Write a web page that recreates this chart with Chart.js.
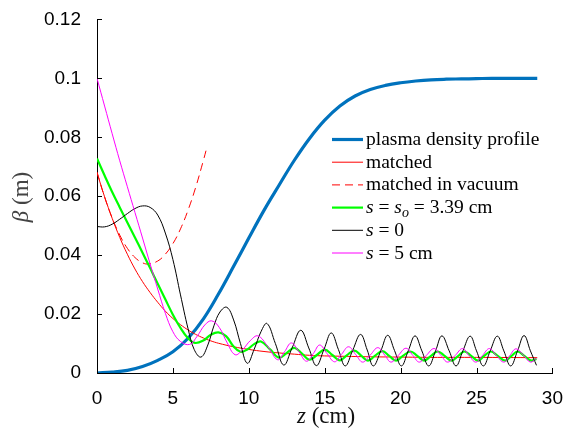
<!DOCTYPE html>
<html>
<head>
<meta charset="utf-8">
<script src="https://cdn.jsdelivr.net/npm/chart.js@4.4.1/dist/chart.umd.min.js"></script>
<style>
  body { margin: 0; background: #fff; }
  canvas { display: block; }
</style>
</head>
<body>
<canvas id="grafico" width="569" height="433"></canvas>
<script>
// z in cm, beta in m
const zProfilo = [0, 1, 2, 3, 4, 5, 6, 7, 8, 9, 10, 11, 12, 13, 14, 15, 16, 17, 18, 19, 20, 21, 22, 23, 24, 25, 26, 27, 28, 29];
const betaProfilo = [0, 0.0003, 0.0009, 0.0022, 0.0043, 0.0072, 0.0118, 0.0183, 0.0268, 0.0362, 0.0458, 0.0552, 0.0638, 0.0722, 0.0796, 0.0858, 0.0906, 0.0940, 0.0962, 0.0976, 0.0985, 0.0991, 0.0995, 0.0997, 0.0998, 0.0999, 0.1, 0.1, 0.1, 0.1];

const zMatched = [0, 0.5, 1, 1.5, 2, 2.5, 3, 3.5, 4, 4.5, 5, 5.5, 6, 6.5, 7, 7.5, 8, 9, 10, 11, 12, 13, 14, 15, 16, 18, 20, 22, 25, 29];
const betaMatched = [0.068, 0.0598, 0.0525, 0.0460, 0.0403, 0.0353, 0.0310, 0.0273, 0.0240, 0.0210, 0.0185, 0.0164, 0.0146, 0.0131, 0.0119, 0.0109, 0.0101, 0.0089, 0.0080, 0.0073, 0.0068, 0.0064, 0.0060, 0.0058, 0.0057, 0.0055, 0.0054, 0.0053, 0.0053, 0.0052];

const zVuoto = [0, 0.5, 1, 1.5, 2, 2.5, 3, 3.4, 4, 4.5, 5, 5.5, 6, 6.5, 7, 7.25];
const betaVuoto = [0.0682, 0.0597, 0.0526, 0.0468, 0.0423, 0.0392, 0.0374, 0.0370, 0.0380, 0.0403, 0.0439, 0.0489, 0.0553, 0.0630, 0.0720, 0.0768];

const zSo = [0, 0.5, 1, 1.5, 2, 2.5, 3, 3.5, 4, 4.5, 5, 5.5, 6, 6.45, 7, 7.5, 8, 8.5, 9, 9.45, 9.9, 10.35, 10.8, 11.4, 12, 12.5, 13, 13.5, 14, 14.5, 15, 15.5, 16, 16.45, 16.95, 17.4, 17.85, 18.3, 18.8, 19.25, 19.7, 20.15, 20.65, 21.1, 21.55, 22, 22.45, 22.9, 23.35, 23.8, 24.2, 24.65, 25.1, 25.5, 25.95, 26.4, 26.9, 27.3, 27.7, 28.15, 28.6, 28.95];
const betaSo = [0.0728, 0.0670, 0.0614, 0.0562, 0.0511, 0.0460, 0.0408, 0.0356, 0.0303, 0.0250, 0.0198, 0.0153, 0.0118, 0.0102, 0.0110, 0.0130, 0.0138, 0.0125, 0.0090, 0.0072, 0.0080, 0.0098, 0.0107, 0.0080, 0.0052, 0.0068, 0.0085, 0.0066, 0.0045, 0.0062, 0.0079, 0.0061, 0.0043, 0.0060, 0.0076, 0.0059, 0.0042, 0.0058, 0.0074, 0.0058, 0.0042, 0.0058, 0.0073, 0.0058, 0.0042, 0.0058, 0.0073, 0.0058, 0.0042, 0.0058, 0.0073, 0.0058, 0.0042, 0.0058, 0.0073, 0.0058, 0.0042, 0.0058, 0.0073, 0.0058, 0.0042, 0.0048];

const zS0 = [0, 0.5, 1, 1.5, 2, 2.5, 3, 3.5, 4, 4.5, 5, 5.5, 6, 6.4, 6.85, 7.3, 7.7, 8.1, 8.55, 9, 9.45, 9.9, 10.35, 10.8, 11.2, 11.75, 12.3, 12.85, 13.42, 13.95, 14.45, 14.95, 15.43, 15.9, 16.35, 16.85, 17.36, 17.8, 18.2, 18.7, 19.15, 19.6, 20.05, 20.5, 20.95, 21.4, 21.85, 22.3, 22.72, 23.2, 23.65, 24.1, 24.58, 25, 25.45, 25.9, 26.37, 26.8, 27.25, 27.7, 28.13, 28.55, 28.95];
const betaS0 = [0.0497, 0.0496, 0.0505, 0.0522, 0.0541, 0.0558, 0.0567, 0.0562, 0.0536, 0.0475, 0.0385, 0.0265, 0.0150, 0.0080, 0.0054, 0.0095, 0.0160, 0.0207, 0.0223, 0.0180, 0.0100, 0.0033, 0.0080, 0.0140, 0.0168, 0.0100, 0.0027, 0.0085, 0.0145, 0.0085, 0.0025, 0.0080, 0.0136, 0.0080, 0.0024, 0.0078, 0.0131, 0.0078, 0.0024, 0.0076, 0.0128, 0.0076, 0.0024, 0.0075, 0.0126, 0.0075, 0.0024, 0.0075, 0.0126, 0.0075, 0.0024, 0.0075, 0.0125, 0.0075, 0.0024, 0.0075, 0.0125, 0.0075, 0.0024, 0.0075, 0.0127, 0.0075, 0.0026];

const zS5 = [0, 0.5, 1, 1.5, 2, 2.5, 3, 3.5, 4, 4.5, 5, 5.5, 6.1, 6.6, 7.1, 7.55, 8.05, 8.55, 9.1, 9.6, 10.1, 10.6, 11.25, 11.9, 12.35, 12.8, 13.3, 13.8, 14.25, 14.67, 15.15, 15.65, 16.1, 16.57, 17.05, 17.5, 18, 18.5, 18.95, 19.37, 19.85, 20.35, 20.8, 21.23, 21.7, 22.2, 22.65, 23.1, 23.6, 24.08, 24.5, 24.95, 25.4, 25.85, 26.3, 26.8, 27.2, 27.6, 28.1, 28.55, 28.95];
const betaS5 = [0.1000, 0.0906, 0.0812, 0.0720, 0.0632, 0.0545, 0.0458, 0.0370, 0.0285, 0.0203, 0.0140, 0.0107, 0.0097, 0.0125, 0.0163, 0.0177, 0.0155, 0.0105, 0.0062, 0.0080, 0.0110, 0.0126, 0.0090, 0.0045, 0.0072, 0.0102, 0.0072, 0.0040, 0.0066, 0.0095, 0.0066, 0.0038, 0.0063, 0.0089, 0.0062, 0.0037, 0.0061, 0.0086, 0.0061, 0.0037, 0.0060, 0.0084, 0.0060, 0.0037, 0.0060, 0.0083, 0.0060, 0.0037, 0.0060, 0.0083, 0.0060, 0.0037, 0.0060, 0.0083, 0.0060, 0.0037, 0.0060, 0.0082, 0.0060, 0.0037, 0.0050];

const xTicks = [0, 5, 10, 15, 20, 25, 30];
const yTicks = [0, 0.02, 0.04, 0.06, 0.08, 0.1, 0.12];
const yTickLabels = ['0', '0.02', '0.04', '0.06', '0.08', '0.1', '0.12'];

// testi con pezzi corsivi: r = dritto, i = corsivo, sub = pedice
const etichette = [
  [['plasma density profile', 'r']],
  [['matched', 'r']],
  [['matched in vacuum', 'r']],
  [['s', 'i'], [' = ', 'r'], ['s', 'i'], ['o', 'sub'], [' = 3.39 cm', 'r']],
  [['s', 'i'], [' = 0', 'r']],
  [['s', 'i'], [' = 5 cm', 'r']]
];
const titoloX = [['z', 'i'], [' (cm)', 'r']];
const titoloY = [['β', 'i'], [' (m)', 'r']];

const punti = (zs, bs) => zs.map((z, i) => ({ x: z, y: bs[i] }));

function scriviRicco(ctx, parti, x, y, size, align) {
  const fontDi = st => st === 'r' ? `${size}px "Liberation Serif"` :
    st === 'i' ? `italic ${size}px "Liberation Serif"` : `italic ${Math.round(size * 0.7)}px "Liberation Serif"`;
  let w = 0;
  parti.forEach(([t, st]) => { ctx.font = fontDi(st); w += ctx.measureText(t).width; });
  let cx = align === 'center' ? x - w / 2 : x;
  ctx.textAlign = 'left';
  ctx.textBaseline = 'alphabetic';
  parti.forEach(([t, st]) => {
    ctx.font = fontDi(st);
    ctx.fillText(t, cx, st === 'sub' ? y + size * 0.22 : y);
    cx += ctx.measureText(t).width;
  });
}

// tacche verso l'interno
const tacche = {
  id: 'tacche',
  afterDraw(chart) {
    const { ctx, scales: { x, y } } = chart;
    ctx.save();
    ctx.strokeStyle = '#000';
    ctx.lineWidth = 1;
    ctx.beginPath();
    x.ticks.forEach(t => {
      const px = Math.round(x.getPixelForValue(t.value)) + 0.5;
      ctx.moveTo(px, x.top);
      ctx.lineTo(px, x.top - 5);
    });
    y.ticks.forEach(t => {
      const py = Math.round(y.getPixelForValue(t.value)) + 0.5;
      ctx.moveTo(y.right, py);
      ctx.lineTo(y.right + 5, py);
    });
    ctx.stroke();
    ctx.restore();
  }
};

// legenda e titoli degli assi disegnati a mano
const legenda = {
  id: 'legenda',
  afterDraw(chart) {
    const ctx = chart.ctx;
    ctx.save();
    ctx.fillStyle = '#000';
    chart.data.datasets.forEach((ds, i) => {
      const yy = 139.5 + i * 22.7;
      ctx.strokeStyle = ds.borderColor;
      ctx.lineWidth = ds.borderWidth;
      ctx.setLineDash(ds.borderDash || []);
      ctx.beginPath();
      ctx.moveTo(332, yy);
      ctx.lineTo(363, yy);
      ctx.stroke();
      ctx.setLineDash([]);
      scriviRicco(ctx, etichette[i], 366, yy + 5.5, 19.5, 'left');
    });
    ctx.fillStyle = '#111';
    scriviRicco(ctx, titoloX, 326, 423, 23, 'center');
    ctx.translate(28, 197);
    ctx.rotate(-Math.PI / 2);
    ctx.fillStyle = '#444';
    scriviRicco(ctx, titoloY, 0, 0, 23, 'center');
    ctx.restore();
  }
};

const ctx = document.getElementById('grafico');

new Chart(ctx, {
  type: 'line',
  data: {
    datasets: [
      { label: 'plasma density profile', data: punti(zProfilo, betaProfilo), borderColor: '#0072BD', borderWidth: 3.2, order: 6 },
      { label: 'matched', data: punti(zMatched, betaMatched), borderColor: '#ff0000', borderWidth: 1, order: 5 },
      { label: 'matched in vacuum', data: punti(zVuoto, betaVuoto), borderColor: '#ff0000', borderWidth: 1, borderDash: [8, 5], order: 4 },
      { label: 's = so = 3.39 cm', data: punti(zSo, betaSo), borderColor: '#00ff00', borderWidth: 2.2, order: 3 },
      { label: 's = 0', data: punti(zS0, betaS0), borderColor: '#000000', borderWidth: 1, order: 2 },
      { label: 's = 5 cm', data: punti(zS5, betaS5), borderColor: '#ff00ff', borderWidth: 1, order: 1 }
    ]
  },
  options: {
    responsive: false,
    animation: false,
    layout: { padding: { left: 0, right: 14, top: 17, bottom: 0 } },
    elements: {
      point: { radius: 0 },
      line: { tension: 0.4, fill: false }
    },
    plugins: { legend: { display: false }, tooltip: { enabled: false } },
    scales: {
      x: {
        type: 'linear',
        min: 0,
        max: 30,
        afterBuildTicks: s => { s.ticks = xTicks.map(v => ({ value: v })); },
        afterFit: s => { s.height = 60; },
        grid: { display: false },
        border: { display: true, color: '#000', width: 1 },
        ticks: { color: '#000', padding: 6, font: { family: 'Liberation Sans', size: 19 }, callback: v => String(v) }
      },
      y: {
        type: 'linear',
        min: 0,
        max: 0.12,
        afterBuildTicks: s => { s.ticks = yTicks.map(v => ({ value: v })); },
        afterFit: s => { s.width = 97; },
        grid: { display: false },
        border: { display: true, color: '#000', width: 1 },
        ticks: { color: '#000', padding: 8, font: { family: 'Liberation Sans', size: 19 },
          callback: (v, i) => yTickLabels[i] }
      }
    }
  },
  plugins: [tacche, legenda]
});
</script>
</body>
</html>
